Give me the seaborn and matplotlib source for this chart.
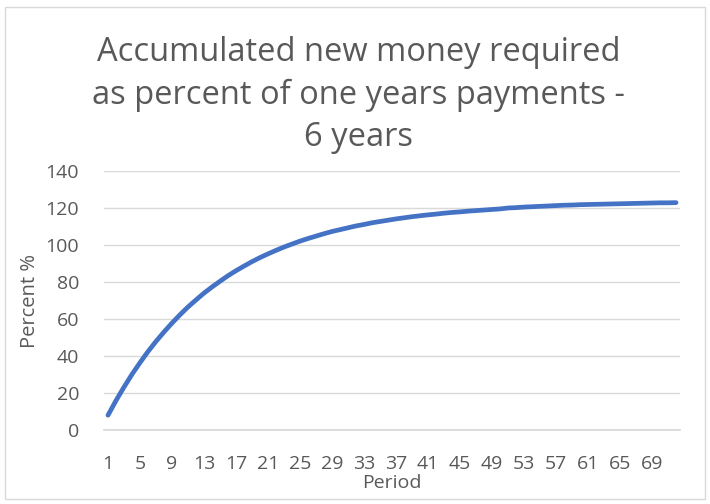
import matplotlib
matplotlib.use("Agg")
import matplotlib.pyplot as plt
import seaborn as sns
import pandas as pd
from matplotlib.patches import Rectangle

title = "Accumulated new money required\nas percent of one years payments -\n6 years"
x_label = "Period"
y_label = "Percent %"

periods = list(range(1, 73))
percent = [
    8.0, 15.9, 23.2, 30.1, 36.4, 42.4, 47.9, 53.0, 57.8, 62.3,
    66.5, 70.3, 74.0, 77.3, 80.4, 83.4, 86.1, 88.6, 91.0, 93.2,
    95.2, 97.1, 98.9, 100.5, 102.1, 103.5, 104.8, 106.1, 107.3, 108.3,
    109.3, 110.3, 111.1, 112.0, 112.7, 113.4, 114.1, 114.7, 115.3, 115.8,
    116.3, 116.7, 117.2, 117.6, 117.9, 118.3, 118.6, 118.9, 119.2, 119.5,
    120.0, 120.2, 120.5, 120.7, 120.9, 121.1, 121.3, 121.5, 121.6, 121.8,
    121.9, 122.0, 122.1, 122.2, 122.3, 122.4, 122.5, 122.6, 122.7, 122.8,
    122.8, 122.9,
]
x_ticks = list(range(1, 72, 4))
y_ticks = [0, 20, 40, 60, 80, 100, 120, 140]

df = pd.DataFrame({"Period": periods, "Percent": percent})

sns.set_theme(style="white")
plt.rcParams["font.family"] = ["Open Sans", "DejaVu Sans"]

text_color = "#595959"
fig = plt.figure(figsize=(7.1, 5.04), dpi=100)
W, H = 710, 504
left, right, top, bottom = 104, 680, 171, 430
ax = fig.add_axes([left / W, 1 - bottom / H, (right - left) / W, (bottom - top) / H])

sns.lineplot(data=df, x="Period", y="Percent", ax=ax, color="#4472C4",
             linewidth=3.4, solid_capstyle="round")

ax.set_xlim(0.5, 72.5)
ax.set_ylim(0, 140)
ax.set_xticks(x_ticks)
ax.set_xticklabels([str(t) for t in x_ticks])
ax.set_yticks(y_ticks)
ax.grid(axis="y", color="#D9D9D9", linewidth=1.0)
ax.grid(axis="x", visible=False)
for s in ["left", "right", "top"]:
    ax.spines[s].set_visible(False)
ax.spines["bottom"].set_color("#D9D9D9")
ax.tick_params(axis="both", length=0, labelsize=14, colors=text_color)
ax.tick_params(axis="x", pad=18)
ax.tick_params(axis="y", pad=18)
ax.set_xlabel(x_label, fontsize=14, color=text_color, labelpad=1)
ax.set_ylabel(y_label, fontsize=14.5, color=text_color, labelpad=4)

fig.text(0.505, 1 - 95 / H, title, ha="center", va="center", fontsize=23.5,
         color=text_color, linespacing=1.38)

fig.patches.append(Rectangle((5 / W, 5 / H), 700 / W, 492 / H, transform=fig.transFigure,
                             fill=False, edgecolor="#D9D9D9", linewidth=1.0))

fig.savefig("out.png", dpi=100)
